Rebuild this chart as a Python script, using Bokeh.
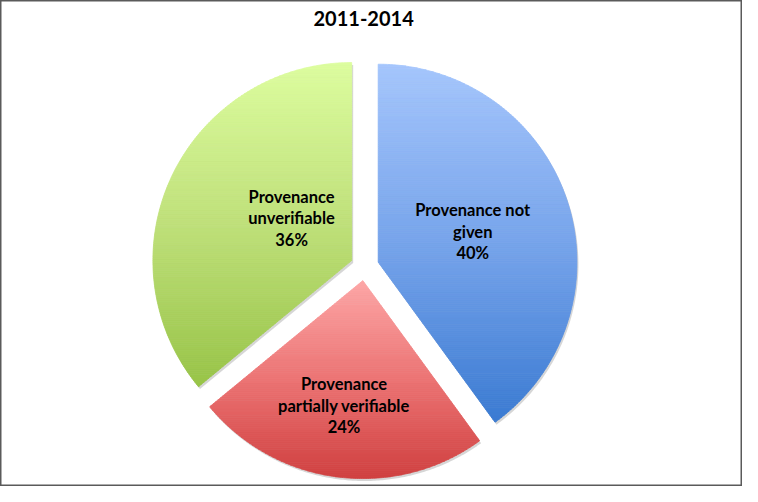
import math
from bokeh.plotting import figure
from bokeh.models import Range1d
from bokeh.core.properties import value
from bokeh.embed import file_html
from bokeh.resources import INLINE

# ---------------- data ----------------
title_text = "2011-2014"
categories = ["Provenance not given", "Provenance partially verifiable", "Provenance unverifiable"]
label_lines = [["Provenance not", "given"], ["Provenance", "partially verifiable"], ["Provenance", "unverifiable"]]
shares = [40, 24, 36]
gradients = [["#a5c6fc", "#77a4eb", "#3b7bd2"],
             ["#fda7a7", "#ec7474", "#d04040"],
             ["#ddfd9f", "#bfe07a", "#98c448"]]

# ---------------- layout ----------------
W, H = 742, 486
# chart box in reference pixel units
BX0, BX1, BY0, BY1 = 3, 757, 3, 499
CX, CY = 373.0, 274.5
R = 202.0
EXPLODE = 14.5
label_radius_frac = [0.50, 0.64, 0.37]
label_angle_shift = [0.0, -1.3, -10.0]
LINE_GAP = 22.0

p = figure(width=W, height=H, x_range=Range1d(BX0, BX1), y_range=Range1d(BY1, BY0),
           x_axis_type=None, y_axis_type=None, toolbar_location=None,
           output_backend="svg", min_border=0)
p.grid.visible = False
p.outline_line_color = "#5a5a5a"
p.outline_line_width = 2
p.background_fill_color = "white"
p.border_fill_color = "white"


def hex2rgb(h):
    h = h.lstrip("#")
    return [int(h[i:i + 2], 16) for i in (0, 2, 4)]


def interp(stops, t):
    t = min(max(t, 0.0), 1.0)
    seg = t * (len(stops) - 1)
    i = min(int(seg), len(stops) - 2)
    f = seg - i
    a, b = hex2rgb(stops[i]), hex2rgb(stops[i + 1])
    c = [round(a[k] + (b[k] - a[k]) * f) for k in range(3)]
    return "#%02x%02x%02x" % tuple(c)


def clip_half(poly, yc, sign):
    out = []
    n = len(poly)
    for i in range(n):
        a = poly[i]
        b = poly[(i + 1) % n]
        ina = sign * (a[1] - yc) >= 0
        inb = sign * (b[1] - yc) >= 0
        if ina:
            out.append(a)
        if ina != inb:
            t = (yc - a[1]) / (b[1] - a[1])
            out.append((a[0] + t * (b[0] - a[0]), yc))
    return out


total = float(sum(shares))
start = 90.0
band_xs, band_ys, band_col = [], [], []
sh_xs, sh_ys = [], []
lab_x, lab_y, lab_t = [], [], []

for i, v in enumerate(shares):
    sweep = 360.0 * v / total
    a0, a1 = start, start - sweep
    mid = (a0 + a1) / 2.0
    ax = CX + EXPLODE * math.cos(math.radians(mid))
    ay = CY - EXPLODE * math.sin(math.radians(mid))
    poly = [(ax, ay)]
    n = 160
    for k in range(n + 1):
        ang = math.radians(a0 + (a1 - a0) * k / n)
        poly.append((ax + R * math.cos(ang), ay - R * math.sin(ang)))
    # soft shadow
    sh_xs.append([q[0] + 1.5 for q in poly])
    sh_ys.append([q[1] + 2.5 for q in poly])
    ymin = min(q[1] for q in poly)
    ymax = max(q[1] for q in poly)
    step = 2.0
    y = ymin
    while y < ymax:
        y1 = min(y + step, ymax)
        part = clip_half(poly, y, 1)
        if len(part) >= 3:
            part = clip_half(part, y1, -1)
        if len(part) >= 3:
            band_xs.append([q[0] for q in part])
            band_ys.append([q[1] for q in part])
            band_col.append(interp(gradients[i], ((y + y1) / 2 - ymin) / (ymax - ymin)))
        y = y1
    # label
    la = math.radians(mid + label_angle_shift[i])
    lr = label_radius_frac[i] * R
    lx = ax + lr * math.cos(la)
    ly = ay - lr * math.sin(la)
    lines = label_lines[i] + ["%d%%" % round(100 * v / total)]
    for j, t in enumerate(lines):
        lab_x.append(lx)
        lab_y.append(ly + (j - (len(lines) - 1) / 2.0) * LINE_GAP)
        lab_t.append(t)
    start = a1

p.patches(sh_xs, sh_ys, fill_color="#000000", fill_alpha=0.16, line_color=None)
p.patches(band_xs, band_ys, fill_color=band_col, line_color=band_col, line_width=0.8)

p.text(x=lab_x, y=lab_y, text=lab_t, text_align="center", text_baseline="middle",
       text_font=value("Lato"), text_font_style="bold", text_font_size="16.5px",
       text_color="#000000")

p.text(x=[372], y=[21], text=[title_text], text_align="center", text_baseline="middle",
       text_font=value("Lato"), text_font_style="bold", text_font_size="20px",
       text_color="#000000")

open("out.html", "w").write(file_html(p, INLINE))
